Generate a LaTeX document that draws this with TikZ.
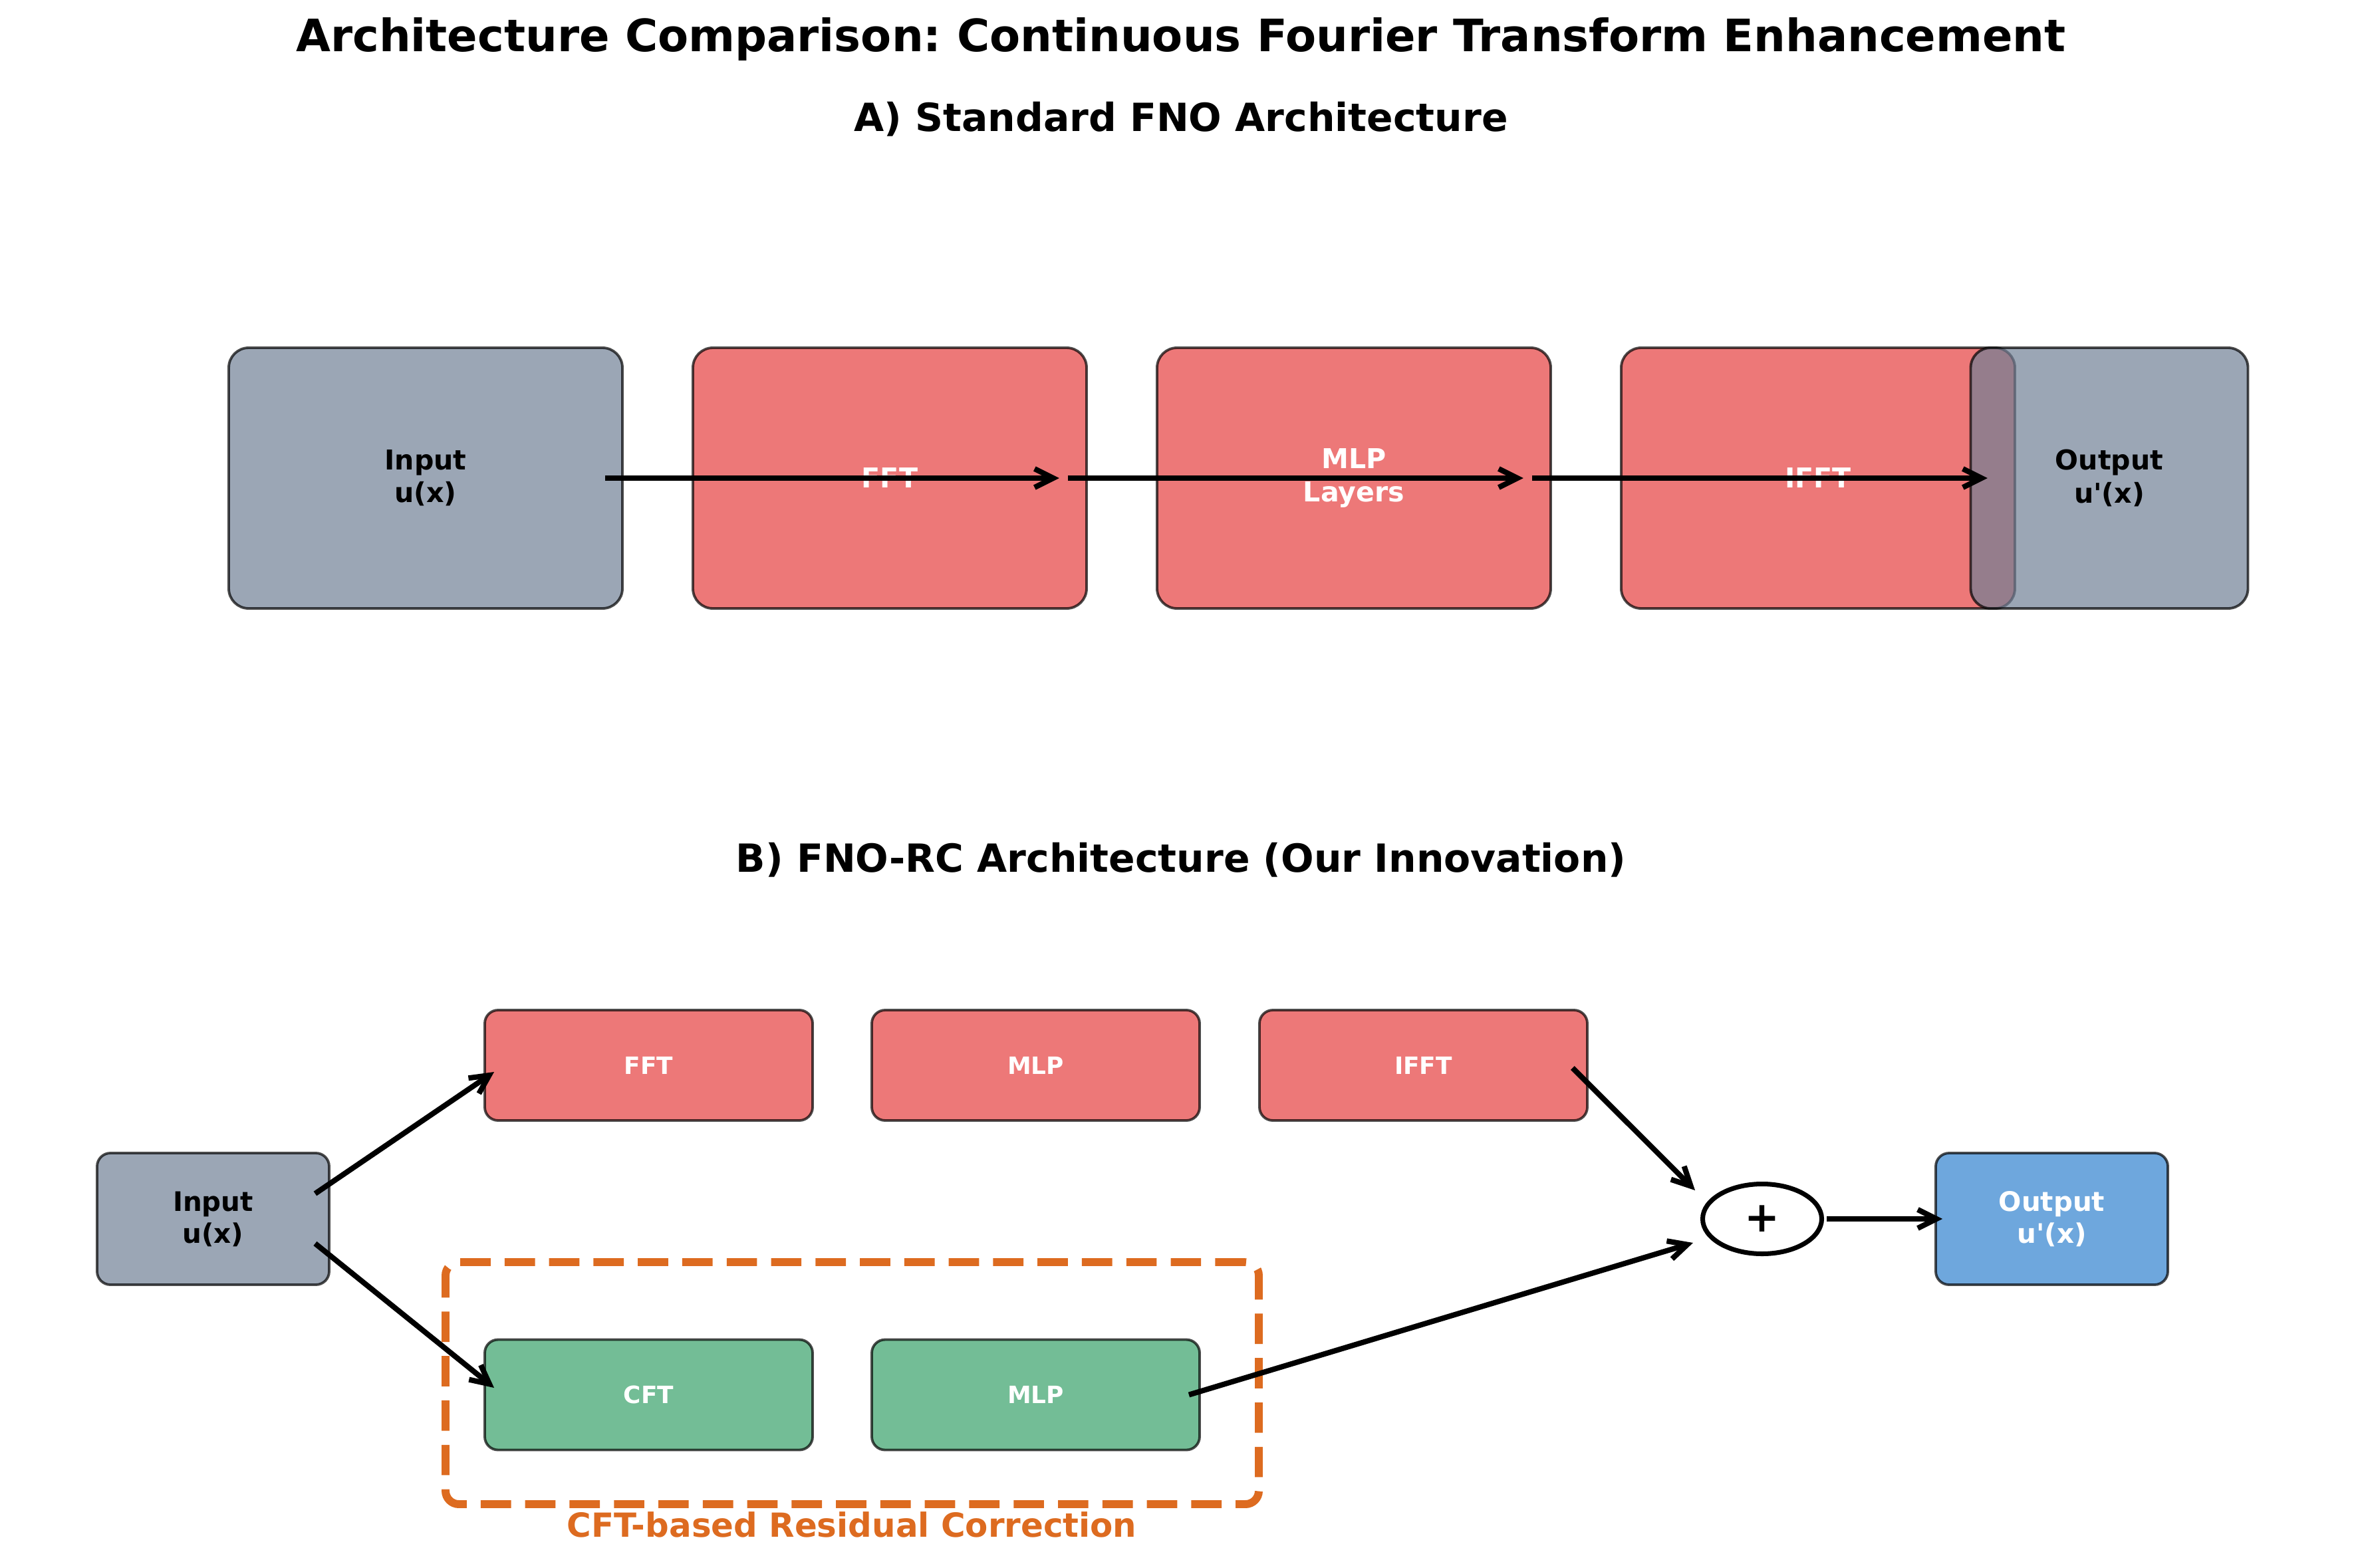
\documentclass[tikz,border=0pt]{standalone}
\usepackage{fontspec}
\setmainfont{DejaVu Sans}
\usepackage{xcolor}
\usetikzlibrary{arrows.meta, positioning, calc, shapes.geometric}
\frenchspacing

\definecolor{fnored}{HTML}{E53E3E}
\definecolor{fnogray}{HTML}{718096}
\definecolor{cftgreen}{HTML}{38A169}
\definecolor{outblue}{HTML}{3182CE}
\definecolor{rcorange}{HTML}{DD6B20}

\begin{document}
\begin{tikzpicture}[
    >={Straight Barb[length=8pt, width=8pt]},
    line width=1.1pt,
    stageA/.style={rectangle, rounded corners=0.3cm, draw=black, opacity=0.7, text opacity=1,
        minimum width=5.92cm, minimum height=3.92cm, align=center,
        font=\fontsize{11.7}{14}\selectfont\bfseries},
    stageB/.style={rectangle, rounded corners=0.2cm, draw=black, opacity=0.7, text opacity=1,
        minimum width=4.93cm, minimum height=1.66cm, align=center, text=white,
        font=\fontsize{10.2}{12}\selectfont\bfseries},
    ioB/.style={stageB, minimum width=3.49cm, minimum height=1.98cm,
        font=\fontsize{11.5}{13.7}\selectfont\bfseries},
    flow/.style={->, line width=2.3pt},
    heading/.style={font=\fontsize{16.6}{20}\selectfont\bfseries}
]
    \useasboundingbox (0,0) rectangle (35.52,-23.58);

    % --- 1. Titles ---
    \node (title) at (17.76,-0.59) {\fontsize{19.1}{23}\selectfont\bfseries Architecture Comparison: Continuous Fourier Transform Enhancement};
    \node (headA) [heading] at (17.76,-1.79) {A) Standard FNO Architecture};
    \node (headB) [heading] at (17.76,-12.93) {B) FNO-RC Architecture (Our Innovation)};

    % --- 2. Standard FNO (top row) ---
    \node (inA) [stageA, fill=fnogray] at (6.40,-7.19) {Input\\u(x)};
    \node (fftA) [stageA, fill=fnored, text=white] at (13.38,-7.19) {FFT};
    \node (mlpA) [stageA, fill=fnored, text=white] at (20.36,-7.19) {MLP\\Layers};
    \node (ifftA) [stageA, fill=fnored, text=white] at (27.34,-7.19) {IFFT};
    \node (outA) [stageA, fill=fnogray, minimum width=4.17cm] at (31.72,-7.19) {Output\\u\textquotesingle(x)};

    \draw[flow] ($(inA.east)+(-0.28,0)$) -- ($(fftA.east)+(-0.43,0)$);
    \draw[flow] ($(fftA.east)+(-0.30,0)$) -- ($(mlpA.east)+(-0.43,0)$);
    \draw[flow] ($(mlpA.east)+(-0.30,0)$) -- ($(ifftA.east)+(-0.43,0)$);

    % --- 3. FNO-RC ---
    % residual correction frame (drawn first, the rest sits on top)
    \node (rcbox) [draw=rcorange, line width=3.4pt, dash pattern=on 13pt off 6pt,
        rounded corners=0.2cm, minimum width=12.23cm, minimum height=3.64cm] at (12.815,-20.80) {};
    \node (rclabel) at (12.81,-22.93) {\color{rcorange}\fontsize{14.2}{16}\selectfont\bfseries CFT-based Residual Correction};

    \node (inB) [ioB, fill=fnogray, text=black] at (3.205,-18.33) {Input\\u(x)};
    \node (fftB) [stageB, fill=fnored] at (9.755,-16.02) {FFT};
    \node (mlpB) [stageB, fill=fnored] at (15.575,-16.02) {MLP};
    \node (ifftB) [stageB, fill=fnored] at (21.405,-16.02) {IFFT};
    \node (cftB) [stageB, fill=cftgreen] at (9.755,-20.975) {CFT};
    \node (mlpC) [stageB, fill=cftgreen] at (15.575,-20.975) {MLP};
    \node (sumB) [ellipse, draw, line width=2pt, fill=white, minimum width=1.79cm, minimum height=1.05cm,
        inner sep=0pt, font=\fontsize{18}{18}\selectfont\bfseries] at (26.50,-18.33) {+};
    \node (outB) [ioB, fill=outblue] at (30.855,-18.33) {Output\\u\textquotesingle(x)};

    % Branches into the sum
    \draw[flow] ($(inB.east)+(-0.23,0.38)$) -- ($(fftB.west)+(0.16,-0.10)$);
    \draw[flow] ($(inB.east)+(-0.23,-0.37)$) -- ($(cftB.west)+(0.16,0.105)$);
    \draw[flow] ($(ifftB.east)+(-0.24,-0.04)$) -- ($(sumB)+(-1.01,0.43)$);
    \draw[flow] ($(mlpC.east)+(-0.18,0)$) -- ($(sumB)+(-1.04,-0.36)$);
    \draw[flow] ($(sumB.east)+(0.04,0)$) -- ($(outB.west)+(0.12,0)$);
\end{tikzpicture}
\end{document}
